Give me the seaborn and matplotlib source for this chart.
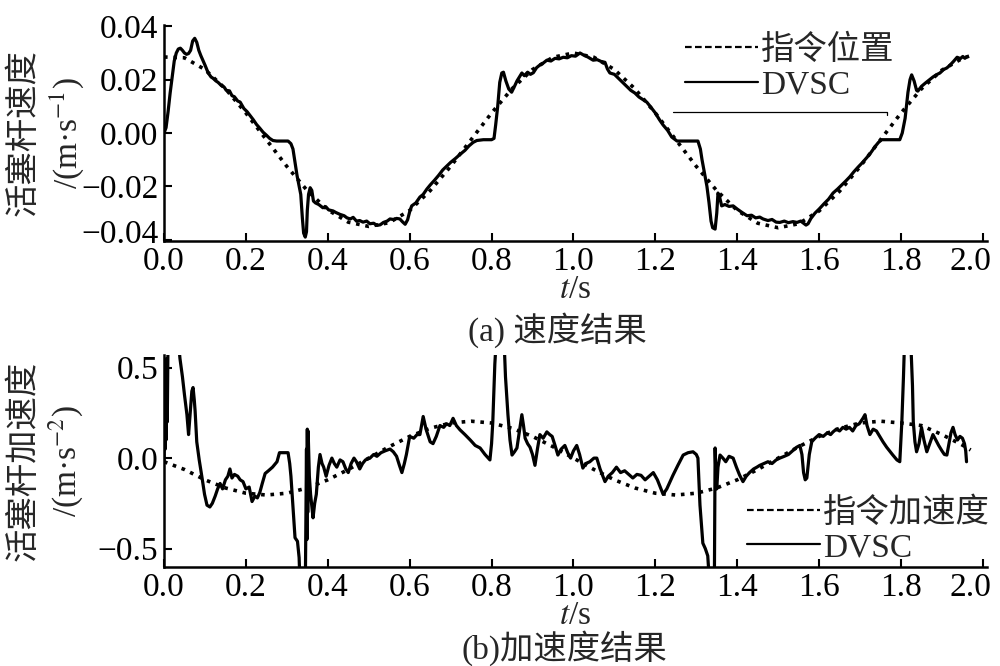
import matplotlib
matplotlib.use('Agg')
import matplotlib.pyplot as plt
import matplotlib.transforms as mtransforms
import seaborn as sns
from matplotlib.lines import Line2D

# commanded velocity / acceleration
cmd_t = [0.00, 0.05, 0.10, 0.15, 0.20, 0.25, 0.30, 0.35, 0.40, 0.45,
         0.50, 0.55, 0.60, 0.65, 0.70, 0.75, 0.80, 0.85, 0.90, 0.95,
         1.00, 1.05, 1.10, 1.15, 1.20, 1.25, 1.30, 1.35, 1.40, 1.45,
         1.50, 1.55, 1.60, 1.65, 1.70, 1.75, 1.80, 1.85, 1.90, 1.95, 1.97]
cmd_vel = [0.0285, 0.0282, 0.0238, 0.0166, 0.0075, -0.0025, -0.0125, -0.0216, -0.0288, -0.0334,
           -0.0350, -0.0336, -0.0290, -0.0216, -0.0125, -0.0025, 0.0075, 0.0166, 0.0238, 0.0284,
           0.0300, 0.0284, 0.0238, 0.0166, 0.0075, -0.0025, -0.0125, -0.0216, -0.0290, -0.0338,
           -0.0355, -0.0340, -0.0292, -0.0218, -0.0126, -0.0025, 0.0075, 0.0166, 0.0236, 0.0280, 0.0290]
cmd_acc = [-0.020, -0.063, -0.120, -0.165, -0.194, -0.204, -0.194, -0.165, -0.120, -0.063,
           0.000, 0.063, 0.120, 0.165, 0.194, 0.204, 0.194, 0.165, 0.120, 0.063,
           0.000, -0.063, -0.120, -0.165, -0.194, -0.204, -0.194, -0.165, -0.120, -0.063,
           0.000, 0.063, 0.120, 0.165, 0.194, 0.204, 0.194, 0.180, 0.130, 0.072, 0.045]

# DVSC measured velocity
vel_t = [0.000, 0.005, 0.010, 0.015, 0.020, 0.025, 0.030, 0.035, 0.040, 0.045,
         0.050, 0.055, 0.060, 0.065, 0.070, 0.075, 0.080, 0.085, 0.090, 0.100,
         0.108, 0.115, 0.120, 0.127, 0.132, 0.140, 0.147, 0.152, 0.160, 0.166,
         0.172, 0.180, 0.186, 0.195, 0.203, 0.210, 0.218, 0.226, 0.234, 0.242,
         0.250, 0.258, 0.266, 0.275, 0.290, 0.303, 0.310, 0.315, 0.320, 0.325,
         0.330, 0.334, 0.338, 0.341, 0.345, 0.348, 0.350, 0.353, 0.357, 0.361,
         0.365, 0.370, 0.378, 0.388, 0.395, 0.402, 0.413, 0.420, 0.430, 0.440,
         0.447, 0.455, 0.462, 0.470, 0.478, 0.486, 0.495, 0.503, 0.512, 0.520,
         0.528, 0.536, 0.545, 0.552, 0.560, 0.568, 0.576, 0.582, 0.589, 0.595,
         0.600, 0.605, 0.615, 0.625, 0.633, 0.642, 0.650, 0.660, 0.670, 0.681,
         0.690, 0.700, 0.712, 0.723, 0.735, 0.745, 0.755, 0.764, 0.780, 0.800,
         0.806, 0.810, 0.815, 0.820, 0.825, 0.829, 0.835, 0.842, 0.849, 0.856,
         0.862, 0.868, 0.874, 0.880, 0.888, 0.895, 0.902, 0.910, 0.918, 0.926,
         0.935, 0.945, 0.955, 0.965, 0.975, 0.985, 0.995, 1.005, 1.016, 1.025,
         1.035, 1.048, 1.058, 1.068, 1.077, 1.083, 1.089, 1.100, 1.110, 1.120,
         1.130, 1.140, 1.150, 1.160, 1.170, 1.179, 1.190, 1.200, 1.210, 1.219,
         1.230, 1.240, 1.253, 1.270, 1.290, 1.304, 1.310, 1.314, 1.320, 1.326,
         1.331, 1.336, 1.340, 1.346, 1.350, 1.353, 1.357, 1.362, 1.370, 1.380,
         1.390, 1.400, 1.412, 1.424, 1.435, 1.445, 1.455, 1.463, 1.475, 1.485,
         1.495, 1.504, 1.515, 1.525, 1.536, 1.546, 1.555, 1.562, 1.568, 1.573,
         1.580, 1.590, 1.600, 1.612, 1.623, 1.634, 1.645, 1.655, 1.665, 1.675,
         1.685, 1.695, 1.705, 1.717, 1.727, 1.737, 1.745, 1.753, 1.775, 1.797,
         1.803, 1.810, 1.817, 1.822, 1.826, 1.832, 1.838, 1.841, 1.850, 1.860,
         1.870, 1.878, 1.886, 1.895, 1.904, 1.912, 1.920, 1.928, 1.937, 1.945,
         1.951, 1.956, 1.960]
vel_dvsc = [0.0000, 0.0020, 0.0080, 0.0150, 0.0210, 0.0270, 0.0300, 0.0315, 0.0318, 0.0310,
            0.0300, 0.0295, 0.0298, 0.0310, 0.0345, 0.0355, 0.0340, 0.0310, 0.0290, 0.0255,
            0.0225, 0.0210, 0.0205, 0.0195, 0.0190, 0.0178, 0.0172, 0.0160, 0.0158, 0.0140,
            0.0136, 0.0120, 0.0116, 0.0092, 0.0080, 0.0066, 0.0050, 0.0032, 0.0018, 0.0003,
            -0.0008, -0.0020, -0.0028, -0.0030, -0.0030, -0.0030, -0.0040, -0.0060, -0.0110, -0.0160,
            -0.0200, -0.0230, -0.0320, -0.0375, -0.0390, -0.0370, -0.0290, -0.0230, -0.0205, -0.0215,
            -0.0255, -0.0262, -0.0268, -0.0280, -0.0276, -0.0288, -0.0292, -0.0298, -0.0305, -0.0310,
            -0.0318, -0.0322, -0.0316, -0.0330, -0.0328, -0.0334, -0.0330, -0.0340, -0.0338, -0.0346,
            -0.0344, -0.0335, -0.0330, -0.0322, -0.0324, -0.0320, -0.0322, -0.0332, -0.0342, -0.0325,
            -0.0295, -0.0273, -0.0262, -0.0240, -0.0230, -0.0210, -0.0195, -0.0178, -0.0160, -0.0138,
            -0.0125, -0.0110, -0.0095, -0.0080, -0.0065, -0.0048, -0.0035, -0.0028, -0.0025, -0.0025,
            -0.0020, 0.0030, 0.0100, 0.0190, 0.0225, 0.0228, 0.0195, 0.0165, 0.0153, 0.0175,
            0.0195, 0.0210, 0.0225, 0.0215, 0.0228, 0.0220, 0.0226, 0.0245, 0.0255, 0.0262,
            0.0273, 0.0270, 0.0280, 0.0278, 0.0284, 0.0282, 0.0290, 0.0288, 0.0300, 0.0292,
            0.0285, 0.0273, 0.0275, 0.0268, 0.0265, 0.0240, 0.0225, 0.0220, 0.0205, 0.0190,
            0.0175, 0.0160, 0.0150, 0.0135, 0.0125, 0.0116, 0.0095, 0.0075, 0.0050, 0.0030,
            0.0010, -0.0015, -0.0030, -0.0030, -0.0030, -0.0030, -0.0060, -0.0100, -0.0150, -0.0200,
            -0.0260, -0.0330, -0.0355, -0.0360, -0.0300, -0.0225, -0.0240, -0.0273, -0.0268, -0.0275,
            -0.0273, -0.0285, -0.0298, -0.0310, -0.0308, -0.0318, -0.0315, -0.0322, -0.0328, -0.0324,
            -0.0334, -0.0335, -0.0330, -0.0336, -0.0332, -0.0335, -0.0330, -0.0338, -0.0345, -0.0340,
            -0.0320, -0.0300, -0.0285, -0.0265, -0.0248, -0.0225, -0.0210, -0.0195, -0.0180, -0.0164,
            -0.0145, -0.0128, -0.0112, -0.0091, -0.0072, -0.0050, -0.0035, -0.0025, -0.0025, -0.0025,
            0.0000, 0.0055, 0.0153, 0.0200, 0.0218, 0.0195, 0.0160, 0.0157, 0.0175, 0.0188,
            0.0200, 0.0210, 0.0218, 0.0225, 0.0238, 0.0244, 0.0255, 0.0268, 0.0284, 0.0279,
            0.0287, 0.0280, 0.0285]

# DVSC measured acceleration (spikes run off the axes)
acc_t = [0.000, 0.002, 0.003, 0.004, 0.005, 0.006, 0.008, 0.010, 0.025, 0.039,
         0.045, 0.050, 0.056, 0.060, 0.064, 0.068, 0.071, 0.074, 0.076, 0.080,
         0.086, 0.093, 0.099, 0.105, 0.112, 0.118, 0.125, 0.131, 0.137, 0.143,
         0.150, 0.156, 0.161, 0.166, 0.172, 0.180, 0.186, 0.193, 0.200, 0.208,
         0.215, 0.222, 0.228, 0.234, 0.240, 0.247, 0.255, 0.265, 0.276, 0.282,
         0.295, 0.303, 0.307, 0.310, 0.313, 0.316, 0.320, 0.326, 0.330, 0.333,
         0.345, 0.348, 0.349, 0.350, 0.351, 0.352, 0.355, 0.358, 0.364, 0.368,
         0.372, 0.377, 0.381, 0.386, 0.390, 0.396, 0.403, 0.410, 0.416, 0.422,
         0.430, 0.437, 0.444, 0.450, 0.457, 0.464, 0.470, 0.478, 0.485, 0.492,
         0.503, 0.512, 0.520, 0.530, 0.540, 0.552, 0.560, 0.568, 0.575, 0.581,
         0.587, 0.592, 0.600, 0.610, 0.618, 0.625, 0.633, 0.640, 0.650, 0.657,
         0.665, 0.674, 0.683, 0.690, 0.698, 0.706, 0.714, 0.723, 0.735, 0.748,
         0.760, 0.772, 0.784, 0.796, 0.800, 0.803, 0.808, 0.815, 0.828, 0.834,
         0.840, 0.845, 0.850, 0.856, 0.862, 0.868, 0.874, 0.878, 0.882, 0.888,
         0.894, 0.900, 0.906, 0.912, 0.918, 0.926, 0.935, 0.942, 0.948, 0.955,
         0.962, 0.970, 0.979, 0.986, 0.993, 1.000, 1.008, 1.015, 1.023, 1.030,
         1.040, 1.050, 1.057, 1.065, 1.077, 1.085, 1.095, 1.105, 1.115, 1.125,
         1.135, 1.145, 1.155, 1.165, 1.175, 1.185, 1.195, 1.205, 1.212, 1.219,
         1.228, 1.236, 1.243, 1.255, 1.268, 1.280, 1.292, 1.300, 1.304, 1.309,
         1.316, 1.322, 1.328, 1.334, 1.344, 1.346, 1.348, 1.350, 1.353, 1.358,
         1.365, 1.372, 1.380, 1.390, 1.398, 1.406, 1.414, 1.422, 1.430, 1.440,
         1.448, 1.455, 1.465, 1.475, 1.485, 1.495, 1.504, 1.515, 1.525, 1.535,
         1.545, 1.553, 1.558, 1.562, 1.566, 1.570, 1.576, 1.582, 1.590, 1.600,
         1.610, 1.620, 1.628, 1.634, 1.642, 1.650, 1.658, 1.666, 1.674, 1.682,
         1.690, 1.698, 1.707, 1.712, 1.717, 1.724, 1.732, 1.740, 1.748, 1.756,
         1.765, 1.772, 1.780, 1.790, 1.797, 1.802, 1.806, 1.810, 1.822, 1.828,
         1.830, 1.834, 1.838, 1.844, 1.850, 1.856, 1.863, 1.870, 1.878, 1.885,
         1.892, 1.900, 1.906, 1.912, 1.918, 1.922, 1.927, 1.932, 1.938, 1.944,
         1.950, 1.955, 1.958, 1.960]
acc_dvsc = [-0.02, 0.30, 0.05, 0.50, 0.10, 0.55, 0.20, 0.70, 0.90, 0.55,
            0.45, 0.35, 0.24, 0.13, 0.25, 0.37, 0.39, 0.32, 0.26, 0.09,
            -0.01, -0.11, -0.20, -0.26, -0.27, -0.25, -0.21, -0.17, -0.14, -0.17,
            -0.12, -0.10, -0.06, -0.11, -0.09, -0.10, -0.12, -0.13, -0.17, -0.16,
            -0.24, -0.21, -0.22, -0.19, -0.14, -0.085, -0.07, -0.05, -0.02, 0.03,
            0.03, 0.03, -0.03, -0.10, -0.20, -0.30, -0.44, -0.46, -0.55, -0.75,
            -0.75, 0.05, -0.45, 0.16, -0.30, 0.15, -0.10, -0.20, -0.33, -0.25,
            -0.20, -0.05, 0.02, -0.03, -0.05, -0.10, -0.04, 0.00, -0.03, -0.05,
            -0.01, -0.02, -0.06, -0.08, -0.03, 0.00, -0.02, -0.06, -0.03, -0.01,
            0.00, 0.02, 0.01, 0.03, 0.04, 0.05, 0.035, 0.01, -0.04, -0.08,
            -0.03, 0.02, 0.12, 0.11, 0.13, 0.13, 0.23, 0.16, 0.09, 0.08,
            0.12, 0.18, 0.17, 0.19, 0.18, 0.22, 0.18, 0.156, 0.13, 0.10,
            0.07, 0.056, 0.02, -0.01, 0.08, 0.20, 0.52, 0.80, 0.80, 0.45,
            0.24, 0.10, 0.017, 0.035, 0.056, 0.15, 0.24, 0.18, 0.11, 0.08,
            0.06, 0.02, -0.04, 0.05, 0.13, 0.11, 0.145, 0.13, 0.12, 0.07,
            0.017, 0.05, 0.07, 0.03, 0.00, 0.04, 0.07, 0.02, -0.055, -0.03,
            -0.02, 0.00, 0.00, -0.06, -0.13, -0.10, -0.08, -0.05, -0.08, -0.07,
            -0.09, -0.11, -0.09, -0.095, -0.12, -0.10, -0.08, -0.12, -0.16, -0.20,
            -0.17, -0.13, -0.095, -0.04, 0.017, 0.03, 0.035, 0.02, 0.00, -0.26,
            -0.47, -0.50, -0.54, -0.75, -0.75, 0.056, -0.10, -0.17, -0.05, 0.017,
            0.00, -0.02, 0.01, 0.00, -0.05, -0.095, -0.13, -0.10, -0.08, -0.06,
            -0.05, -0.04, -0.03, -0.02, -0.03, -0.01, 0.00, 0.01, 0.02, 0.04,
            0.06, 0.07, 0.02, -0.08, -0.12, -0.11, 0.02, 0.09, 0.11, 0.13,
            0.12, 0.14, 0.13, 0.145, 0.16, 0.15, 0.17, 0.16, 0.17, 0.15,
            0.18, 0.19, 0.22, 0.24, 0.18, 0.13, 0.16, 0.15, 0.12, 0.09,
            0.06, 0.04, 0.017, -0.01, -0.02, 0.20, 0.45, 0.75, 0.75, 0.40,
            0.20, 0.09, 0.035, 0.08, 0.17, 0.10, 0.035, 0.08, 0.13, 0.10,
            0.07, 0.04, 0.02, 0.017, 0.09, 0.14, 0.17, 0.13, 0.10, 0.12,
            0.11, 0.08, 0.04, -0.02]

# stray thin rule left in the top panel of the original figure
rule_t = [1.243, 1.766, 1.766]
rule_v = [0.0078, 0.0078, 0.0066]

sns.set_style('ticks')
plt.rcParams['font.family'] = ['Liberation Serif', 'Noto Sans CJK SC']
plt.rcParams['mathtext.fontset'] = 'stix'
plt.rcParams['axes.linewidth'] = 1.8

FS = 24
dot_style = (0, (1, 1.6))

fig = plt.figure(figsize=(10, 6.66), dpi=100)
ax1 = fig.add_axes([0.164, 0.638, 0.823, 0.3245])
ax2 = fig.add_axes([0.164, 0.1486, 0.823, 0.3184])

# --- (a) velocity ---
sns.lineplot(x=cmd_t, y=cmd_vel, ax=ax1, color='black', lw=2.6, linestyle=dot_style,
             sort=False, estimator=None)
sns.lineplot(x=vel_t, y=vel_dvsc, ax=ax1, color='black', lw=2.3, sort=False, estimator=None)
ax1.plot(rule_t, rule_v, color='black', lw=0.9)
ax1.set_xlim(0, 2.01)
ax1.set_ylim(-0.0405, 0.0405)
ax1.set_yticks([-0.04, -0.02, 0.00, 0.02, 0.04])
ax1.set_yticklabels(['\u22120.04', '\u22120.02', '0.00', '0.02', '0.04'])
ax1.set_ylabel('活塞杆速度\n/(m·s$^{-1}$)', fontsize=FS, linespacing=1.25)
ax1.yaxis.set_label_coords(-0.095, 0.5)

# --- (b) acceleration ---
sns.lineplot(x=cmd_t, y=cmd_acc, ax=ax2, color='black', lw=2.6, linestyle=dot_style,
             sort=False, estimator=None)
sns.lineplot(x=acc_t, y=acc_dvsc, ax=ax2, color='black', lw=2.3, sort=False, estimator=None)
ax2.set_xlim(0, 2.01)
ax2.set_ylim(-0.602, 0.57)
ax2.set_yticks([-0.5, 0.0, 0.5])
ax2.set_yticklabels(['\u22120.5', '0.0', '0.5'])
ax2.set_ylabel('活塞杆加速度\n/(m·s$^{-2}$)', fontsize=FS, linespacing=1.25)
ax2.yaxis.set_label_coords(-0.095, 0.5)

shift_left = mtransforms.ScaledTranslation(-12 / 100, 0, fig.dpi_scale_trans)
for ax in (ax1, ax2):
    sns.despine(ax=ax)
    ax.set_xticks([0.0, 0.2, 0.4, 0.6, 0.8, 1.0, 1.2, 1.4, 1.6, 1.8, 2.0])
    ax.set_xticklabels(['0.0', '0.2', '0.4', '0.6', '0.8', '1.0', '1.2', '1.4', '1.6', '1.8', '2.0'])
    ax.tick_params(direction='in', length=6, width=1.5, labelsize=FS, pad=4, colors='black')
    ax.set_xlabel('$t$/s', fontsize=FS, labelpad=-2)
    for s in ('left', 'bottom'):
        ax.spines[s].set_color('black')
    # keep the last x tick label inside the figure, as in the original
    last_lbl = ax.get_xticklabels()[-1]
    last_lbl.set_transform(last_lbl.get_transform() + shift_left)

# lift the lowest velocity tick label a little, as in the original
lift = mtransforms.ScaledTranslation(0, 9 / 100, fig.dpi_scale_trans)
bottom_lbl = ax1.get_yticklabels()[0]
bottom_lbl.set_transform(bottom_lbl.get_transform() + lift)

handles = [Line2D([], [], color='black', lw=1.6, linestyle=(0, (3, 1.5))),
           Line2D([], [], color='black', lw=1.6)]
leg_kw = dict(loc='upper right', frameon=False, fontsize=FS, handlelength=2.2,
              handletextpad=0.1, labelspacing=0.12, borderpad=0, borderaxespad=0)
ax1.legend(handles, ['指令位置', 'DVSC'], bbox_to_anchor=(0.888, 0.955), **leg_kw)
ax2.legend(handles, ['指令加速度', 'DVSC'], bbox_to_anchor=(1.004, 0.33), **leg_kw)

fig.text(0.557, 0.505, '(a) 速度结果', ha='center', va='center', fontsize=FS)
fig.text(0.564, 0.027, '(b)加速度结果', ha='center', va='center', fontsize=FS)

fig.savefig('out.png', dpi=100)
